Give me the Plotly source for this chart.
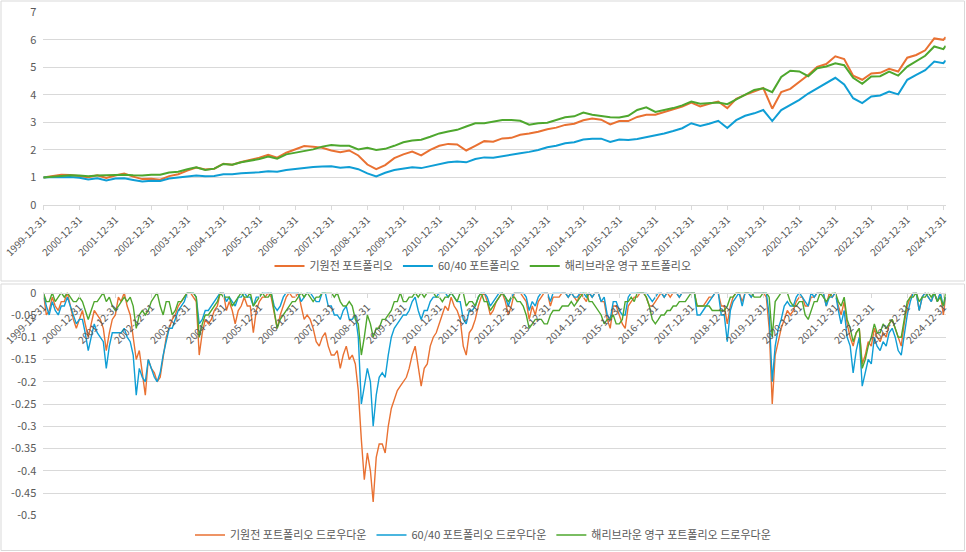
"""
포트폴리오 누적 수익 / 드로우다운 비교 (Plotly).
"""
import pandas as pd
import plotly.graph_objects as go
from plotly.subplots import make_subplots

FONT = "Noto Sans CJK KR"
GREY = "#595959"
GRID = "#D9D9D9"
C_ORANGE = "#E97132"
C_BLUE = "#0F9ED5"
C_GREEN = "#4EA72E"

LAST_DAY = "2025-01-24"

# x축 눈금 (매년 12-31)
tick_dates = [f"{y}-12-31" for y in range(1999, 2025)]

# 누적 가치 (분기말, 1999-12-31 ~ 2024-12-31, 마지막 값은 2025-01)
val_orange = [
    1.00,
    1.06, 1.10, 1.09, 1.05,   # 2000
    1.01, 1.08, 0.98, 1.07,   # 2001
    1.14, 1.03, 0.94, 0.95,   # 2002
    0.92, 1.05, 1.12, 1.25,   # 2003
    1.36, 1.29, 1.32, 1.50,   # 2004
    1.46, 1.56, 1.63, 1.72,   # 2005
    1.82, 1.72, 1.90, 2.02,   # 2006
    2.14, 2.12, 2.08, 1.98,   # 2007
    1.92, 1.98, 1.80, 1.47,   # 2008
    1.30, 1.45, 1.70, 1.84,   # 2009
    1.94, 1.80, 2.00, 2.15,   # 2010
    2.22, 2.20, 1.98, 2.15,   # 2011
    2.32, 2.30, 2.42, 2.44,   # 2012
    2.55, 2.60, 2.66, 2.75,   # 2013
    2.81, 2.91, 2.95, 3.08,   # 2014
    3.14, 3.10, 2.93, 3.05,   # 2015
    3.05, 3.20, 3.28, 3.28,   # 2016
    3.38, 3.47, 3.58, 3.72,   # 2017
    3.58, 3.68, 3.76, 3.52,   # 2018
    3.86, 4.00, 4.12, 4.25,   # 2019
    3.50, 4.10, 4.22, 4.48,   # 2020
    4.72, 5.02, 5.12, 5.40,   # 2021
    5.30, 4.70, 4.55, 4.78,   # 2022
    4.80, 4.95, 4.85, 5.35,   # 2023
    5.45, 5.62, 6.05, 6.00,   # 2024
    6.10,
]
val_blue = [
    1.00,
    1.02, 1.01, 1.02, 0.99,   # 2000
    0.93, 0.97, 0.89, 0.96,   # 2001
    0.97, 0.91, 0.85, 0.88,   # 2002
    0.87, 0.96, 0.99, 1.04,   # 2003
    1.07, 1.04, 1.05, 1.12,   # 2004
    1.12, 1.15, 1.16, 1.19,   # 2005
    1.23, 1.21, 1.27, 1.31,   # 2006
    1.34, 1.38, 1.40, 1.41,   # 2007
    1.35, 1.38, 1.30, 1.15,   # 2008
    1.04, 1.17, 1.27, 1.33,   # 2009
    1.37, 1.34, 1.42, 1.49,   # 2010
    1.55, 1.58, 1.55, 1.67,   # 2011
    1.73, 1.72, 1.78, 1.82,   # 2012
    1.88, 1.93, 2.00, 2.10,   # 2013
    2.15, 2.24, 2.28, 2.38,   # 2014
    2.41, 2.41, 2.29, 2.38,   # 2015
    2.36, 2.40, 2.47, 2.52,   # 2016
    2.60, 2.69, 2.79, 2.97,   # 2017
    2.87, 2.95, 3.06, 2.80,   # 2018
    3.08, 3.24, 3.33, 3.45,   # 2019
    3.05, 3.45, 3.62, 3.82,   # 2020
    4.05, 4.24, 4.42, 4.62,   # 2021
    4.38, 3.88, 3.70, 3.94,   # 2022
    3.98, 4.12, 4.02, 4.55,   # 2023
    4.73, 4.90, 5.21, 5.15,   # 2024
    5.25,
]
val_green = [
    1.00,
    1.03, 1.06, 1.08, 1.07,   # 2000
    1.04, 1.07, 1.08, 1.07,   # 2001
    1.10, 1.08, 1.07, 1.10,   # 2002
    1.10, 1.18, 1.21, 1.30,   # 2003
    1.37, 1.27, 1.32, 1.49,   # 2004
    1.46, 1.55, 1.61, 1.67,   # 2005
    1.76, 1.68, 1.84, 1.90,   # 2006
    1.95, 2.02, 2.12, 2.18,   # 2007
    2.15, 2.15, 2.02, 2.08,   # 2008
    2.00, 2.04, 2.15, 2.28,   # 2009
    2.34, 2.37, 2.48, 2.60,   # 2010
    2.67, 2.73, 2.85, 2.97,   # 2011
    2.97, 3.02, 3.09, 3.09,   # 2012
    3.06, 2.92, 2.97, 2.99,   # 2013
    3.09, 3.19, 3.22, 3.36,   # 2014
    3.28, 3.24, 3.19, 3.18,   # 2015
    3.24, 3.45, 3.55, 3.38,   # 2016
    3.45, 3.52, 3.62, 3.76,   # 2017
    3.68, 3.71, 3.72, 3.66,   # 2018
    3.84, 4.02, 4.18, 4.24,   # 2019
    4.10, 4.65, 4.88, 4.85,   # 2020
    4.68, 4.97, 5.03, 5.15,   # 2021
    5.08, 4.62, 4.40, 4.67,   # 2022
    4.68, 4.85, 4.70, 5.03,   # 2023
    5.21, 5.42, 5.76, 5.66,   # 2024
    5.78,
]

# 드로우다운 (월말, 1999-12-31 ~ 2024-12-31, 마지막 값은 2025-01)
dd_orange = [
    0.0,
    -0.05, -0.04, -0.01, -0.03, -0.04, -0.02, -0.02, 0.0, -0.03, -0.06, -0.08, -0.06,      # 2000
    -0.04, -0.07, -0.10, -0.07, -0.04, -0.05, -0.06, -0.08, -0.13, -0.09, -0.06, -0.05,    # 2001
    -0.01, -0.02, 0.0, -0.03, -0.05, -0.10, -0.15, -0.13, -0.18, -0.23, -0.15, -0.17,      # 2002
    -0.18, -0.20, -0.19, -0.15, -0.10, -0.08, -0.06, -0.05, -0.03, -0.02, -0.01, 0.0,      # 2003
    0.0, -0.01, -0.02, -0.14, -0.09, -0.06, -0.07, -0.06, -0.04, -0.03, 0.0, 0.0,          # 2004
    -0.04, -0.02, -0.04, -0.07, -0.04, -0.03, -0.01, -0.03, -0.03, -0.09, -0.04, -0.02,    # 2005
    -0.01, -0.01, 0.0, -0.01, -0.05, -0.08, -0.05, -0.03, -0.01, 0.0, -0.01, -0.01,        # 2006
    0.0, -0.03, -0.06, -0.05, -0.06, -0.08, -0.11, -0.12, -0.10, -0.09, -0.12, -0.14,      # 2007
    -0.14, -0.13, -0.17, -0.14, -0.12, -0.15, -0.14, -0.16, -0.22, -0.33, -0.42, -0.36,    # 2008
    -0.40, -0.47, -0.37, -0.34, -0.34, -0.36, -0.30, -0.26, -0.24, -0.22, -0.21, -0.20,    # 2009
    -0.19, -0.17, -0.14, -0.12, -0.17, -0.21, -0.17, -0.16, -0.12, -0.10, -0.09, -0.07,    # 2010
    -0.05, -0.03, -0.04, -0.01, -0.03, -0.04, -0.06, -0.12, -0.14, -0.09, -0.08, -0.06,    # 2011
    -0.03, -0.01, 0.0, -0.02, -0.05, -0.04, -0.02, -0.01, 0.0, -0.02, -0.05, -0.03,        # 2012
    0.0, 0.0, 0.0, -0.01, -0.02, -0.06, -0.03, -0.05, -0.02, -0.01, 0.0, 0.0,              # 2013
    -0.03, -0.01, -0.01, -0.01, 0.0, 0.0, -0.01, 0.0, -0.01, -0.02, 0.0, -0.01,            # 2014
    -0.02, 0.0, -0.01, 0.0, 0.0, -0.02, -0.02, -0.06, -0.08, -0.03, -0.03, -0.05,          # 2015
    -0.07, -0.08, -0.03, -0.02, -0.01, -0.01, 0.0, 0.0, -0.01, -0.03, -0.03, -0.02,        # 2016
    -0.01, 0.0, -0.01, 0.0, -0.01, 0.0, 0.0, -0.01, 0.0, 0.0, 0.0, 0.0,                    # 2017
    0.0, -0.03, -0.03, -0.03, -0.02, -0.01, -0.01, 0.0, 0.0, -0.03, -0.03, -0.07,          # 2018
    -0.03, -0.01, 0.0, 0.0, -0.02, 0.0, 0.0, -0.01, 0.0, 0.0, 0.0, 0.0,                    # 2019
    -0.01, -0.08, -0.25, -0.14, -0.11, -0.08, -0.06, -0.04, -0.05, -0.04, -0.02, -0.01,    # 2020
    -0.01, -0.03, -0.03, -0.01, -0.01, 0.0, 0.0, 0.0, -0.03, 0.0, -0.01, 0.0,              # 2021
    -0.03, -0.05, -0.02, -0.07, -0.10, -0.12, -0.09, -0.08, -0.16, -0.14, -0.11, -0.12,    # 2022
    -0.08, -0.10, -0.11, -0.09, -0.10, -0.07, -0.06, -0.08, -0.10, -0.12, -0.07, -0.03,    # 2023
    -0.01, 0.0, 0.0, -0.04, -0.01, 0.0, -0.01, -0.02, 0.0, -0.02, 0.0, -0.05,              # 2024
    -0.01,
]
dd_blue = [
    0.0,
    -0.03, -0.05, -0.02, -0.04, -0.05, -0.03, -0.03, -0.01, -0.03, -0.05, -0.07, -0.06,    # 2000
    -0.06, -0.09, -0.13, -0.10, -0.07, -0.09, -0.10, -0.11, -0.17, -0.12, -0.09, -0.09,    # 2001
    -0.09, -0.09, -0.08, -0.10, -0.11, -0.14, -0.23, -0.17, -0.19, -0.20, -0.15, -0.17,    # 2002
    -0.19, -0.20, -0.18, -0.14, -0.11, -0.08, -0.08, -0.06, -0.04, -0.03, -0.02, 0.0,      # 2003
    0.0, 0.0, -0.01, -0.07, -0.06, -0.04, -0.04, -0.03, -0.02, -0.01, 0.0, 0.0,            # 2004
    -0.02, -0.01, -0.02, -0.03, -0.01, -0.01, 0.0, -0.01, -0.01, -0.03, -0.01, -0.01,      # 2005
    0.0, 0.0, 0.0, 0.0, -0.03, -0.04, -0.03, -0.01, 0.0, 0.0, 0.0, 0.0,                    # 2006
    0.0, -0.02, -0.01, 0.0, 0.0, -0.01, -0.02, -0.02, 0.0, 0.0, -0.03, -0.03,              # 2007
    -0.05, -0.05, -0.06, -0.04, -0.03, -0.06, -0.06, -0.05, -0.10, -0.25, -0.21, -0.17,    # 2008
    -0.20, -0.30, -0.23, -0.19, -0.18, -0.19, -0.14, -0.10, -0.08, -0.07, -0.06, -0.05,    # 2009
    -0.05, -0.04, -0.02, -0.01, -0.04, -0.06, -0.04, -0.04, -0.02, -0.01, -0.01, 0.0,      # 2010
    0.0, 0.0, -0.01, 0.0, -0.01, -0.02, -0.02, -0.06, -0.07, -0.04, -0.04, -0.03,          # 2011
    -0.01, 0.0, 0.0, -0.01, -0.03, -0.02, -0.01, 0.0, 0.0, -0.01, -0.03, -0.01,            # 2012
    0.0, 0.0, 0.0, 0.0, -0.01, -0.04, -0.02, -0.03, -0.01, 0.0, 0.0, 0.0,                  # 2013
    -0.02, 0.0, 0.0, 0.0, 0.0, 0.0, -0.01, 0.0, -0.01, -0.01, 0.0, 0.0,                    # 2014
    -0.01, 0.0, -0.01, 0.0, 0.0, -0.02, -0.01, -0.05, -0.06, -0.02, -0.02, -0.04,          # 2015
    -0.05, -0.05, -0.01, 0.0, 0.0, 0.0, 0.0, 0.0, 0.0, -0.01, -0.02, -0.01,                # 2016
    0.0, 0.0, -0.01, 0.0, 0.0, 0.0, 0.0, -0.01, 0.0, 0.0, 0.0, 0.0,                        # 2017
    0.0, -0.05, -0.05, -0.04, -0.03, -0.02, -0.01, 0.0, 0.0, -0.05, -0.05, -0.11,          # 2018
    -0.04, -0.02, -0.01, 0.0, -0.03, 0.0, 0.0, -0.01, 0.0, 0.0, 0.0, 0.0,                  # 2019
    0.0, -0.05, -0.20, -0.12, -0.08, -0.06, -0.03, -0.02, -0.03, -0.03, -0.01, 0.0,        # 2020
    -0.01, -0.02, -0.03, 0.0, -0.01, 0.0, 0.0, 0.0, -0.03, -0.01, -0.01, 0.0,              # 2021
    -0.04, -0.07, -0.04, -0.10, -0.12, -0.18, -0.13, -0.10, -0.21, -0.18, -0.15, -0.16,    # 2022
    -0.10, -0.12, -0.13, -0.11, -0.12, -0.09, -0.08, -0.10, -0.13, -0.14, -0.09, -0.05,    # 2023
    -0.02, 0.0, 0.0, -0.04, -0.01, 0.0, -0.01, -0.02, 0.0, -0.02, 0.0, -0.03,              # 2024
    -0.01,
]
dd_green = [
    0.0,
    -0.02, -0.02, 0.0, -0.02, -0.01, 0.0, -0.01, 0.0, -0.01, -0.02, -0.02, -0.01,          # 2000
    -0.02, -0.04, -0.06, -0.04, -0.02, -0.02, -0.01, 0.0, -0.02, -0.01, -0.03, -0.04,      # 2001
    -0.03, -0.02, -0.01, -0.02, -0.01, -0.03, -0.08, -0.05, -0.04, -0.05, -0.04, -0.02,    # 2002
    -0.01, 0.0, -0.03, -0.05, -0.02, -0.02, -0.05, -0.04, -0.02, -0.02, -0.01, 0.0,        # 2003
    0.0, 0.0, -0.01, -0.10, -0.07, -0.05, -0.05, -0.04, -0.03, -0.02, 0.0, -0.01,          # 2004
    -0.01, -0.01, -0.03, -0.02, -0.01, 0.0, -0.01, -0.01, 0.0, -0.03, -0.02, -0.01,        # 2005
    0.0, -0.01, -0.01, 0.0, -0.04, -0.08, -0.06, -0.05, -0.04, -0.03, -0.02, -0.02,        # 2006
    -0.01, 0.0, -0.01, 0.0, -0.01, -0.02, -0.01, -0.01, 0.0, 0.0, 0.0, 0.0,                # 2007
    -0.01, 0.0, -0.02, -0.03, -0.03, -0.02, -0.03, -0.06, -0.07, -0.14, -0.10, -0.05,      # 2008
    -0.07, -0.10, -0.08, -0.08, -0.06, -0.06, -0.05, -0.04, -0.02, -0.02, 0.0, -0.02,      # 2009
    -0.02, -0.01, -0.01, 0.0, -0.01, 0.0, -0.01, 0.0, 0.0, 0.0, -0.01, -0.01,              # 2010
    -0.02, -0.01, -0.01, 0.0, -0.01, -0.02, 0.0, 0.0, -0.03, -0.02, -0.02, -0.03,          # 2011
    -0.01, 0.0, -0.02, -0.02, -0.04, -0.03, -0.02, -0.01, 0.0, -0.01, -0.02, -0.01,        # 2012
    -0.01, -0.02, -0.02, -0.03, -0.05, -0.08, -0.07, -0.06, -0.06, -0.06, -0.07, -0.07,    # 2013
    -0.05, -0.04, -0.04, -0.04, -0.03, -0.03, -0.03, -0.02, -0.03, -0.02, -0.01, 0.0,      # 2014
    0.0, -0.02, -0.02, -0.03, -0.04, -0.05, -0.07, -0.06, -0.06, -0.05, -0.07, -0.07,      # 2015
    -0.06, -0.02, -0.02, -0.01, -0.02, 0.0, 0.0, 0.0, -0.01, -0.03, -0.06, -0.07,          # 2016
    -0.06, -0.05, -0.05, -0.04, -0.04, -0.03, -0.03, -0.02, -0.02, -0.02, -0.01, 0.0,      # 2017
    0.0, -0.03, -0.03, -0.03, -0.03, -0.03, -0.04, -0.04, -0.04, -0.04, -0.04, -0.03,      # 2018
    -0.01, -0.01, 0.0, 0.0, 0.0, 0.0, 0.0, 0.0, -0.01, -0.01, -0.01, 0.0,                  # 2019
    0.0, -0.01, -0.10, -0.02, -0.01, 0.0, 0.0, 0.0, -0.02, -0.03, -0.03, -0.02,            # 2020
    -0.02, -0.05, -0.06, -0.04, -0.02, -0.02, 0.0, -0.01, -0.02, -0.01, 0.0, 0.0,          # 2021
    -0.02, -0.03, -0.01, -0.06, -0.08, -0.11, -0.09, -0.08, -0.17, -0.15, -0.12, -0.10,    # 2022
    -0.07, -0.09, -0.09, -0.07, -0.08, -0.07, -0.06, -0.08, -0.10, -0.10, -0.06, -0.02,    # 2023
    -0.01, -0.01, 0.0, -0.02, -0.01, -0.01, 0.0, -0.01, 0.0, -0.02, -0.01, -0.03,          # 2024
    0.0,
]

dd_ticks = [0, -0.05, -0.1, -0.15, -0.2, -0.25, -0.3, -0.35, -0.4, -0.45, -0.5]
dd_labels = ["0", "-0.05", "-0.1", "-0.15", "-0.2", "-0.25", "-0.3", "-0.35", "-0.4", "-0.45", "-0.5"]

names_top = ["기원전 포트폴리오", "60/40 포트폴리오", "해리브라운 영구 포트폴리오"]
names_dd = [n + " 드로우다운" for n in names_top]

# 날짜 (분기말 / 월말) + 마지막 거래일
q_dates = pd.date_range("2000-01-01", "2025-01-01", freq="3MS") - pd.Timedelta(days=1)
m_dates = pd.date_range("2000-01-01", "2025-01-01", freq="MS") - pd.Timedelta(days=1)
q_dates = list(q_dates) + [pd.Timestamp(LAST_DAY)]
m_dates = list(m_dates) + [pd.Timestamp(LAST_DAY)]

W, H = 966, 552


def px(x):
    return x / W


def py(y):
    return 1 - y / H


TOP_DOM = [py(205), py(12.3)]
BOT_DOM = [py(515.3), py(292.7)]
X_DOM = [px(43.3), px(945.7)]

fig = make_subplots(rows=2, cols=1)

colors = [C_ORANGE, C_BLUE, C_GREEN]
for name, vals, col in zip(names_top, [val_orange, val_blue, val_green], colors):
    fig.add_trace(
        go.Scatter(x=q_dates, y=vals, name=name, mode="lines",
                   line=dict(color=col, width=2), legend="legend"),
        row=1, col=1,
    )

for name, vals, col in zip(names_dd, [dd_orange, dd_blue, dd_green], colors):
    fig.add_trace(
        go.Scatter(x=m_dates, y=vals, name=name, mode="lines",
                   line=dict(color=col, width=1.4), legend="legend2"),
        row=2, col=1,
    )

axis_font = dict(family=FONT, size=10, color=GREY)
xcommon = dict(
    type="date", range=["1999-12-31", LAST_DAY], automargin=False,
    tickmode="array", tickvals=tick_dates, ticktext=tick_dates,
    tickangle=-45, tickfont=axis_font, ticklabeloverflow="allow",
    showgrid=False, showline=True, linecolor=GRID, linewidth=1,
    ticks="outside", ticklen=4, tickcolor=GRID, zeroline=False,
)
ycommon = dict(
    automargin=False, tickfont=dict(family=FONT, size=11, color=GREY),
    ticklabeloverflow="allow",
    gridcolor=GRID, showline=False, zeroline=False, ticks="", ticklabelstandoff=6,
)
legend_common = dict(orientation="h", x=px(483), xanchor="center", yanchor="middle",
                     font=dict(family=FONT, size=11, color=GREY), itemwidth=30,
                     bgcolor="rgba(0,0,0,0)")
fig.update_layout(
    xaxis=dict(domain=X_DOM, **xcommon),
    xaxis2=dict(domain=X_DOM, anchor="free", position=BOT_DOM[1], side="bottom", **xcommon),
    yaxis=dict(domain=TOP_DOM, range=[0, 7], dtick=1, **ycommon),
    yaxis2=dict(domain=BOT_DOM, range=[-0.5, 0], tickmode="array", tickvals=dd_ticks,
                ticktext=dd_labels, **ycommon),
    legend=dict(y=py(266), **legend_common),
    legend2=dict(y=py(535), **legend_common),
    width=W, height=H,
    margin=dict(l=0, r=0, t=0, b=0, autoexpand=False),
    paper_bgcolor="white", plot_bgcolor="white",
    font=dict(family=FONT, color=GREY),
    showlegend=True,
    hovermode=False,
)

# 차트 테두리 (위/아래 두 개의 박스)
border = dict(color=GRID, width=1)
for top, bottom in [(1, 281), (284, 550.5)]:
    fig.add_shape(type="rect", xref="paper", yref="paper",
                  x0=px(1), x1=px(964.5), y0=py(bottom), y1=py(top),
                  line=border, fillcolor="rgba(0,0,0,0)", layer="below")

# 페이지 기본 여백(body margin) 제거 → 그림이 창 왼쪽 위에 딱 맞게
fig.write_html("out.html", config={"displayModeBar": False},
               post_script="document.body.style.margin='0';")
